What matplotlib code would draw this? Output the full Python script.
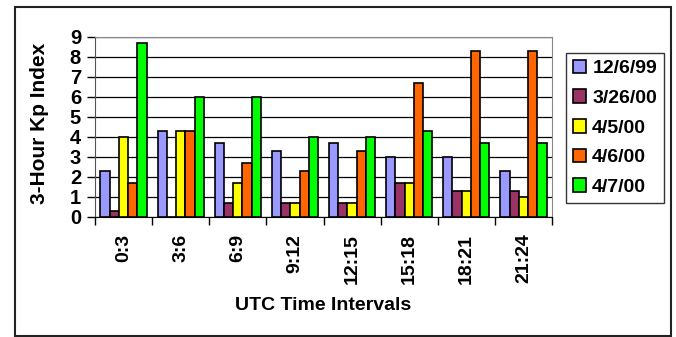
import matplotlib
matplotlib.use("Agg")
import matplotlib.pyplot as plt
from matplotlib.patches import Rectangle
import numpy as np

plt.rcParams['font.family'] = ['Liberation Sans', 'DejaVu Sans']
plt.rcParams['font.weight'] = 'bold'

intervals = ["0:3", "3:6", "6:9", "9:12", "12:15", "15:18", "18:21", "21:24"]
dates = ["12/6/99", "3/26/00", "4/5/00", "4/6/00", "4/7/00"]
kp_120699 = [2.3, 4.3, 3.7, 3.3, 3.7, 3.0, 3.0, 2.3]
kp_032600 = [0.3, 0.0, 0.7, 0.7, 0.7, 1.7, 1.3, 1.3]
kp_040500 = [4.0, 4.3, 1.7, 0.7, 0.7, 1.7, 1.3, 1.0]
kp_040600 = [1.7, 4.3, 2.7, 2.3, 3.3, 6.7, 8.3, 8.3]
kp_040700 = [8.7, 6.0, 6.0, 4.0, 4.0, 4.3, 3.7, 3.7]
series = [kp_120699, kp_032600, kp_040500, kp_040600, kp_040700]
colors = ["#9999FF", "#993366", "#FFFF00", "#FF6600", "#00FF00"]

W, H = 676, 337
fig = plt.figure(figsize=(W / 100, H / 100), dpi=100)

# outer chart frame
fig.patches.append(Rectangle((15 / W, 1 - 336 / H), 656 / W, 329 / H,
                             transform=fig.transFigure, fill=False,
                             edgecolor="#222222", linewidth=1.5))

ax = fig.add_axes([95 / W, 1 - 217 / H, 457 / W, 180 / H])

x = np.arange(len(intervals))
bw = 0.162
for i, (vals, c, lab) in enumerate(zip(series, colors, dates)):
    ax.bar(x + (i - 2) * bw, vals, bw, color=c, edgecolor="black",
           linewidth=1.2, label=lab, zorder=3)

ax.set_xlim(-0.5, len(intervals) - 0.5)
ax.set_ylim(0, 9)
ax.set_yticks(range(10))
ax.yaxis.grid(True, color="black", linewidth=0.9, zorder=0)
ax.set_axisbelow(True)

ax.set_xticks(x)
ax.set_xticklabels(intervals, rotation=90, fontsize=14, fontweight='bold')
ax.set_xticks(np.arange(-0.5, len(intervals)), minor=True)
ax.tick_params(axis='x', which='major', length=0, pad=12)
ax.tick_params(axis='x', which='minor', length=6, width=1, color="black")
ax.tick_params(axis='y', length=6, width=1, pad=4, labelsize=14.5)
for t in ax.get_yticklabels():
    t.set_fontweight('bold')

ax.spines['top'].set_color("#888888")
ax.spines['right'].set_color("#888888")
ax.spines['left'].set_color("#555555")
ax.spines['bottom'].set_color("black")

fig.text(323.5 / W, 1 - 305 / H, "UTC Time Intervals", ha='center',
         va='center', fontsize=14, fontweight='bold')
fig.text(40 / W, 1 - 123 / H, "3-Hour Kp Index", ha='center', va='center',
         rotation=90, fontsize=15, fontweight='bold')

leg = fig.legend(loc='upper left', bbox_to_anchor=(566 / W, 1 - 53 / H),
                 bbox_transform=fig.transFigure, borderaxespad=0,
                 fontsize=14, frameon=True, fancybox=False,
                 edgecolor="black", handlelength=0.7, handleheight=0.7,
                 handletextpad=0.3, labelspacing=0.62, borderpad=0.35)
leg.get_frame().set_linewidth(1.0)
for t in leg.get_texts():
    t.set_fontweight('bold')

fig.savefig("out.png", dpi=100)
